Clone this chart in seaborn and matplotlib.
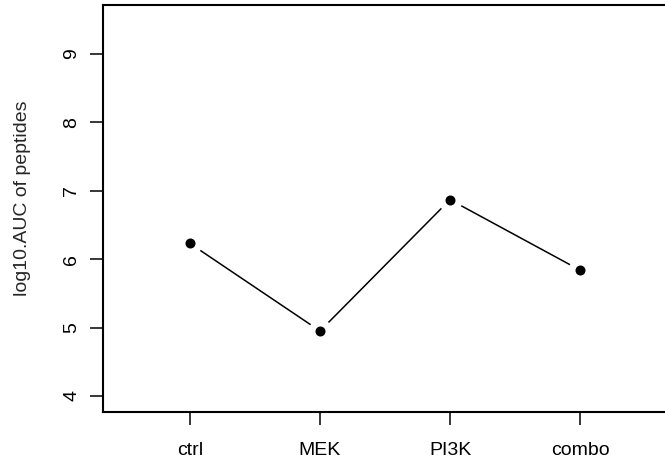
import pandas as pd
import seaborn as sns
import matplotlib.pyplot as plt

# Werte
treatments = ["ctrl", "MEK", "PI3K", "combo"]
log_auc = [6.23, 4.95, 6.87, 5.84]
y_ticks = [4, 5, 6, 7, 8, 9]

df = pd.DataFrame({"treatment": treatments, "log_auc": log_auc})

sns.set_style("ticks")
plt.rcParams["font.family"] = ["Liberation Sans", "DejaVu Sans"]

fig = plt.figure(figsize=(6.65, 4.66), dpi=100)
ax = fig.add_axes([103 / 665, 1 - 412 / 466, 564 / 665, 407 / 466])

sns.lineplot(data=df, x="treatment", y="log_auc", color="black", linewidth=1.1,
             ax=ax, zorder=1)
# weisse Scheiben fuer die Luecke wie bei type="b"
sns.scatterplot(data=df, x="treatment", y="log_auc", color="white", s=300,
                linewidth=0, ax=ax, zorder=2)
sns.scatterplot(data=df, x="treatment", y="log_auc", color="black", s=52,
                linewidth=0, ax=ax, zorder=3)

ax.set_xlim(-0.669, 3.669)
ax.set_ylim(3.766, 9.716)
ax.set_yticks(y_ticks)
ax.set_xlabel("")
ax.set_ylabel("log10.AUC of peptides", fontsize=14)
ax.yaxis.set_label_coords(-0.128, 0.526)

for s in ax.spines.values():
    s.set_visible(True)
    s.set_linewidth(1.5)
    s.set_color("black")

ax.tick_params(axis="both", length=9.4, width=1.1, color="black",
               labelsize=14, labelcolor="black")
ax.tick_params(axis="x", pad=12.5)
ax.tick_params(axis="y", pad=7, labelrotation=90)
for lab in ax.get_yticklabels():
    lab.set_va("center")

fig.savefig("out.png", dpi=100)
